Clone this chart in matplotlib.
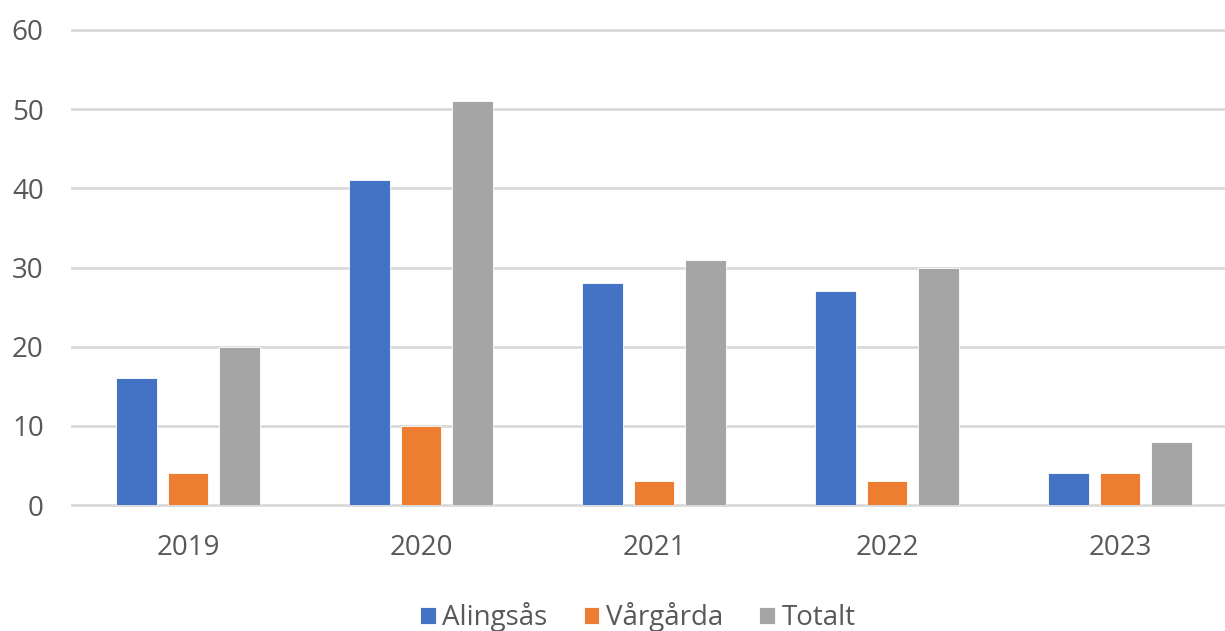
import numpy as np
import matplotlib.pyplot as plt

# data
years = ['2019', '2020', '2021', '2022', '2023']
alingsas = [16, 41, 28, 27, 4]
vargarda = [4, 10, 3, 3, 4]
totalt = [20, 51, 31, 30, 8]

series = [('Alingsås', alingsas, '#4472C4'),
          ('Vårgårda', vargarda, '#ED7D31'),
          ('Totalt', totalt, '#A5A5A5')]

plt.rcParams['font.family'] = ['Open Sans', 'DejaVu Sans']

fig = plt.figure(figsize=(12.25, 6.31), dpi=100)
ax = fig.add_axes([71.5 / 1225, 126 / 631, 1165 / 1225, 475 / 631])

x = np.arange(len(years))
w = 0.172
step = 0.221
for i, (name, vals, col) in enumerate(series):
    ax.bar(x + (i - 1) * step, vals, w, color=col, label=name,
           edgecolor='white', linewidth=0.6, zorder=3)

ax.set_xlim(-0.5, len(years) - 0.5)
ax.set_ylim(0, 60)
ax.set_yticks(range(0, 61, 10))
ax.set_xticks(x)
ax.set_xticklabels(years)
ax.tick_params(axis='both', length=0, labelsize=20, colors='#595959')
ax.tick_params(axis='y', pad=20)
ax.tick_params(axis='x', pad=21)
ax.yaxis.grid(True, color='#d9d9d9', linewidth=2)
for gl in ax.get_ygridlines():
    gl.set_clip_on(False)
ax.set_axisbelow(True)
for s in ax.spines.values():
    s.set_visible(False)

leg = fig.legend(loc='center', bbox_to_anchor=(638 / 1225, 1 - 617 / 631),
                 ncol=3, frameon=False, fontsize=20, handlelength=0.55,
                 handleheight=0.55, handletextpad=0.25, columnspacing=1.3,
                 borderpad=0)
for t in leg.get_texts():
    t.set_color('#595959')

fig.savefig('out.png', dpi=100)
